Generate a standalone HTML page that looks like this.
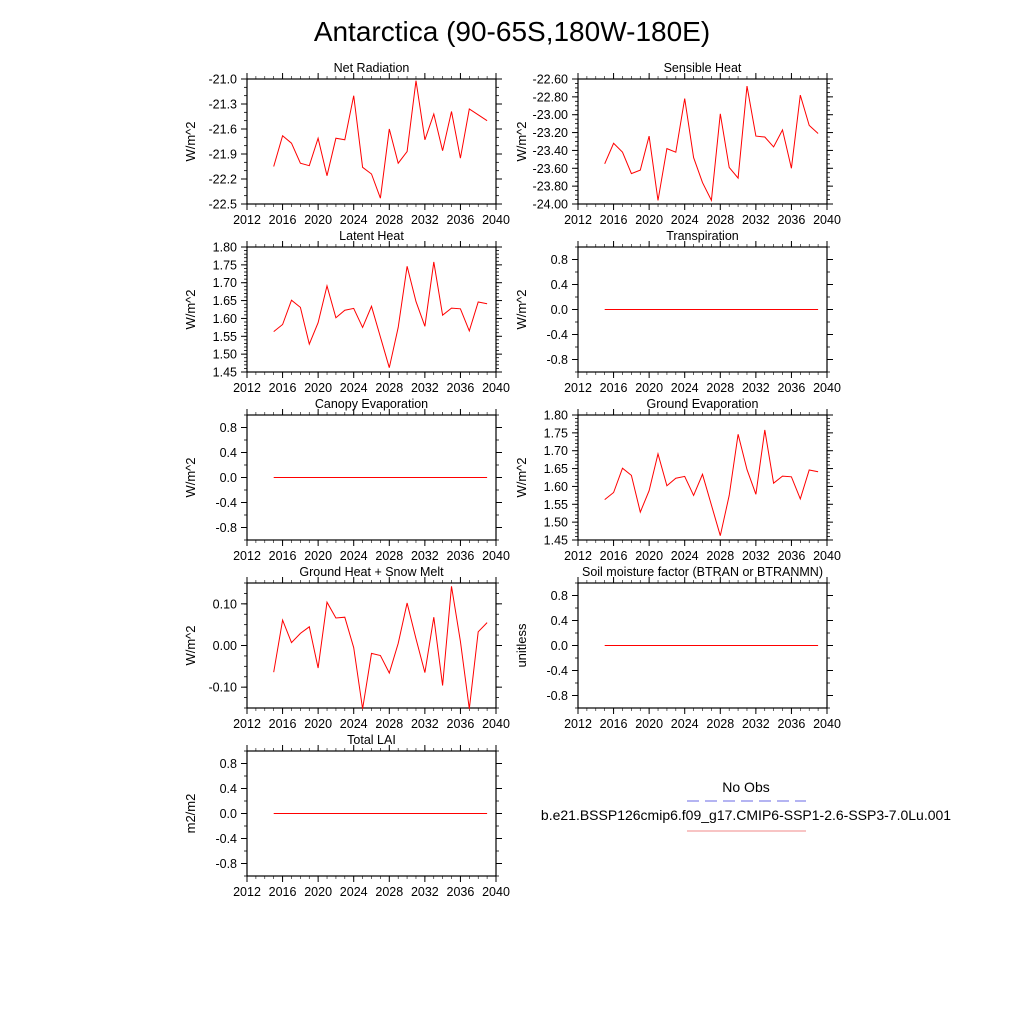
<!DOCTYPE html>
<html><head><meta charset="utf-8"><style>
html,body{margin:0;padding:0;background:#fff;}
svg{display:block;font-family:"Liberation Sans",sans-serif;}
</style></head><body>
<svg id="chart" width="1024" height="1024" viewBox="0 0 1024 1024" xmlns="http://www.w3.org/2000/svg">
<rect width="1024" height="1024" fill="#fff"/>
<text x="512" y="41" text-anchor="middle" font-size="28">Antarctica (90-65S,180W-180E)</text>
<g>
<text x="746" y="792" text-anchor="middle" font-size="14">No Obs</text>
<line x1="687" y1="801" x2="806" y2="801" stroke="#6a6ae6" stroke-width="1" stroke-dasharray="12,6"/>
<text x="746" y="820" text-anchor="middle" font-size="14">b.e21.BSSP126cmip6.f09_g17.CMIP6-SSP1-2.6-SSP3-7.0Lu.001</text>
<line x1="687" y1="831" x2="806" y2="831" stroke="#f4a0a0" stroke-width="1.2"/>
</g>
</svg>
<script>
const years = [2015,2016,2017,2018,2019,2020,2021,2022,2023,2024,2025,2026,2027,2028,2029,2030,2031,2032,2033,2034,2035,2036,2037,2038,2039];
const xTicks = [2012,2016,2020,2024,2028,2032,2036,2040];
const netRadiation = [-22.05,-21.68,-21.77,-22.01,-22.04,-21.71,-22.16,-21.71,-21.73,-21.2,-22.06,-22.14,-22.43,-21.6,-22.01,-21.87,-21.02,-21.73,-21.42,-21.86,-21.39,-21.95,-21.36,-21.43,-21.5];
const sensibleHeat = [-23.55,-23.32,-23.42,-23.66,-23.62,-23.24,-23.96,-23.38,-23.42,-22.82,-23.48,-23.76,-23.96,-22.99,-23.59,-23.71,-22.68,-23.24,-23.25,-23.36,-23.17,-23.60,-22.78,-23.12,-23.21];
const latentHeat = [1.563,1.583,1.651,1.631,1.528,1.588,1.691,1.602,1.623,1.628,1.575,1.634,1.548,1.462,1.575,1.746,1.647,1.578,1.758,1.609,1.629,1.627,1.565,1.646,1.641];
const groundEvap = [1.563,1.583,1.651,1.631,1.528,1.588,1.691,1.602,1.623,1.628,1.575,1.634,1.548,1.462,1.575,1.746,1.647,1.578,1.758,1.609,1.629,1.627,1.565,1.646,1.641];
const groundHeat = [-0.064,0.061,0.007,0.029,0.045,-0.054,0.104,0.066,0.068,-0.005,-0.152,-0.019,-0.024,-0.066,0.005,0.102,0.016,-0.065,0.068,-0.096,0.142,0.01,-0.152,0.033,0.055];
const zeros = [0,0,0,0,0,0,0,0,0,0,0,0,0,0,0,0,0,0,0,0,0,0,0,0,0];
const ticksNet = [-21.0,-21.3,-21.6,-21.9,-22.2,-22.5];
const labelsNet = ["-21.0","-21.3","-21.6","-21.9","-22.2","-22.5"];
const ticksSens = [-22.6,-22.8,-23.0,-23.2,-23.4,-23.6,-23.8,-24.0];
const labelsSens = ["-22.60","-22.80","-23.00","-23.20","-23.40","-23.60","-23.80","-24.00"];
const ticksLat = [1.80,1.75,1.70,1.65,1.60,1.55,1.50,1.45];
const labelsLat = ["1.80","1.75","1.70","1.65","1.60","1.55","1.50","1.45"];
const ticksZero = [0.8,0.4,0,-0.4,-0.8];
const labelsZero = ["0.8","0.4","0.0","-0.4","-0.8"];
const ticksGH = [0.1,0,-0.1];
const labelsGH = ["0.10","0.00","-0.10"];

const NS = "http://www.w3.org/2000/svg";
const svg = document.getElementById('chart');
function mk(tag, attrs, parent){const e=document.createElementNS(NS,tag);for(const k in attrs)e.setAttribute(k,attrs[k]);parent.appendChild(e);return e;}

const panels = [
 {name:'net-radiation',title:'Net Radiation',col:0,row:0,data:netRadiation,ymin:-22.5,ymax:-21.0,ticks:ticksNet,labels:labelsNet,minor:0.1,unit:'W/m^2'},
 {name:'sensible-heat',title:'Sensible Heat',col:1,row:0,data:sensibleHeat,ymin:-24.0,ymax:-22.6,ticks:ticksSens,labels:labelsSens,minor:0.05,unit:'W/m^2'},
 {name:'latent-heat',title:'Latent Heat',col:0,row:1,data:latentHeat,ymin:1.45,ymax:1.80,ticks:ticksLat,labels:labelsLat,minor:0.01,unit:'W/m^2'},
 {name:'transpiration',title:'Transpiration',col:1,row:1,data:zeros,ymin:-1,ymax:1,ticks:ticksZero,labels:labelsZero,minor:0.2,unit:'W/m^2'},
 {name:'canopy-evaporation',title:'Canopy Evaporation',col:0,row:2,data:zeros,ymin:-1,ymax:1,ticks:ticksZero,labels:labelsZero,minor:0.2,unit:'W/m^2'},
 {name:'ground-evaporation',title:'Ground Evaporation',col:1,row:2,data:groundEvap,ymin:1.45,ymax:1.80,ticks:ticksLat,labels:labelsLat,minor:0.01,unit:'W/m^2'},
 {name:'ground-heat-snow-melt',title:'Ground Heat + Snow Melt',col:0,row:3,data:groundHeat,ymin:-0.15,ymax:0.15,ticks:ticksGH,labels:labelsGH,minor:0.025,unit:'W/m^2'},
 {name:'soil-moisture-factor',title:'Soil moisture factor (BTRAN or BTRANMN)',col:1,row:3,data:zeros,ymin:-1,ymax:1,ticks:ticksZero,labels:labelsZero,minor:0.2,unit:'unitless'},
 {name:'total-lai',title:'Total LAI',col:0,row:4,data:zeros,ymin:-1,ymax:1,ticks:ticksZero,labels:labelsZero,minor:0.2,unit:'m2/m2'}
];

panels.forEach(p=>{
  const L = p.col===0?247:578, W=249, T=79+p.row*168, H=125;
  const g = mk('g',{},svg);
  
  
  const xs = v => L + (v-2012)/(2040-2012)*W;
  const ys = v => T + (p.ymax-v)/(p.ymax-p.ymin)*H;
  // minor y ticks
  const nMin = Math.round((p.ymax-p.ymin)/p.minor);
  for(let i=0;i<=nMin;i++){
    const y = ys(p.ymin+i*p.minor);
    const t1 = mk('line',{x1:L-3,y1:y,x2:L,y2:y,stroke:'#000','stroke-width':0.8},g);
    
    
    const t2 = mk('line',{x1:L+W,y1:y,x2:L+W+3,y2:y,stroke:'#000','stroke-width':0.8},g);
    
    
  }
  for(let yr=2012; yr<=2040; yr++){
    const x = xs(yr);
    const m1 = mk('line',{x1:x,y1:T+H,x2:x,y2:T+H+3,stroke:'#000','stroke-width':0.6},g);
    
    
    const m2 = mk('line',{x1:x,y1:T,x2:x,y2:T-3,stroke:'#000','stroke-width':0.6},g);
    
    
  }
  // major y ticks + labels
  p.ticks.forEach((v,i)=>{
    const y = ys(v);
    const a = mk('line',{x1:L-6,y1:y,x2:L,y2:y,stroke:'#000','stroke-width':1},g);
    
    
    const b = mk('line',{x1:L+W,y1:y,x2:L+W+6,y2:y,stroke:'#000','stroke-width':1},g);
    
    
    const t = mk('text',{x:L-10,y:y+4.5,'text-anchor':'end','font-size':12.5},g);
    
    
    t.textContent = p.labels[i];
  });
  xTicks.forEach(v=>{
    const x = xs(v);
    const a = mk('line',{x1:x,y1:T+H,x2:x,y2:T+H+6,stroke:'#000','stroke-width':1},g);
    
    
    const b = mk('line',{x1:x,y1:T,x2:x,y2:T-6,stroke:'#000','stroke-width':1},g);
    
    
    const t = mk('text',{x:x,y:T+H+20,'text-anchor':'middle','font-size':12.5},g);
    
    
    t.textContent = v;
  });
  const fr = mk('rect',{x:L,y:T,width:W,height:H,fill:'none',stroke:'#000','stroke-width':1.2},g);
  
  
  const tt = mk('text',{x:L+W/2,y:T-7,'text-anchor':'middle','font-size':12.5},g);
  
  
  tt.textContent = p.title;
  const ux = L-52, uy = T+H/2;
  const ut = mk('text',{x:ux,y:uy,'text-anchor':'middle','font-size':13,transform:`rotate(-90 ${ux} ${uy})`},g);
  
  
  ut.textContent = p.unit;
  const pts = p.data.map((v,i)=>xs(years[i]).toFixed(1)+','+ys(v).toFixed(1)).join(' ');
  const pl = mk('polyline',{points:pts,fill:'none',stroke:'#ff0000','stroke-width':1},g);
  
  
});
</script>
</body></html>
